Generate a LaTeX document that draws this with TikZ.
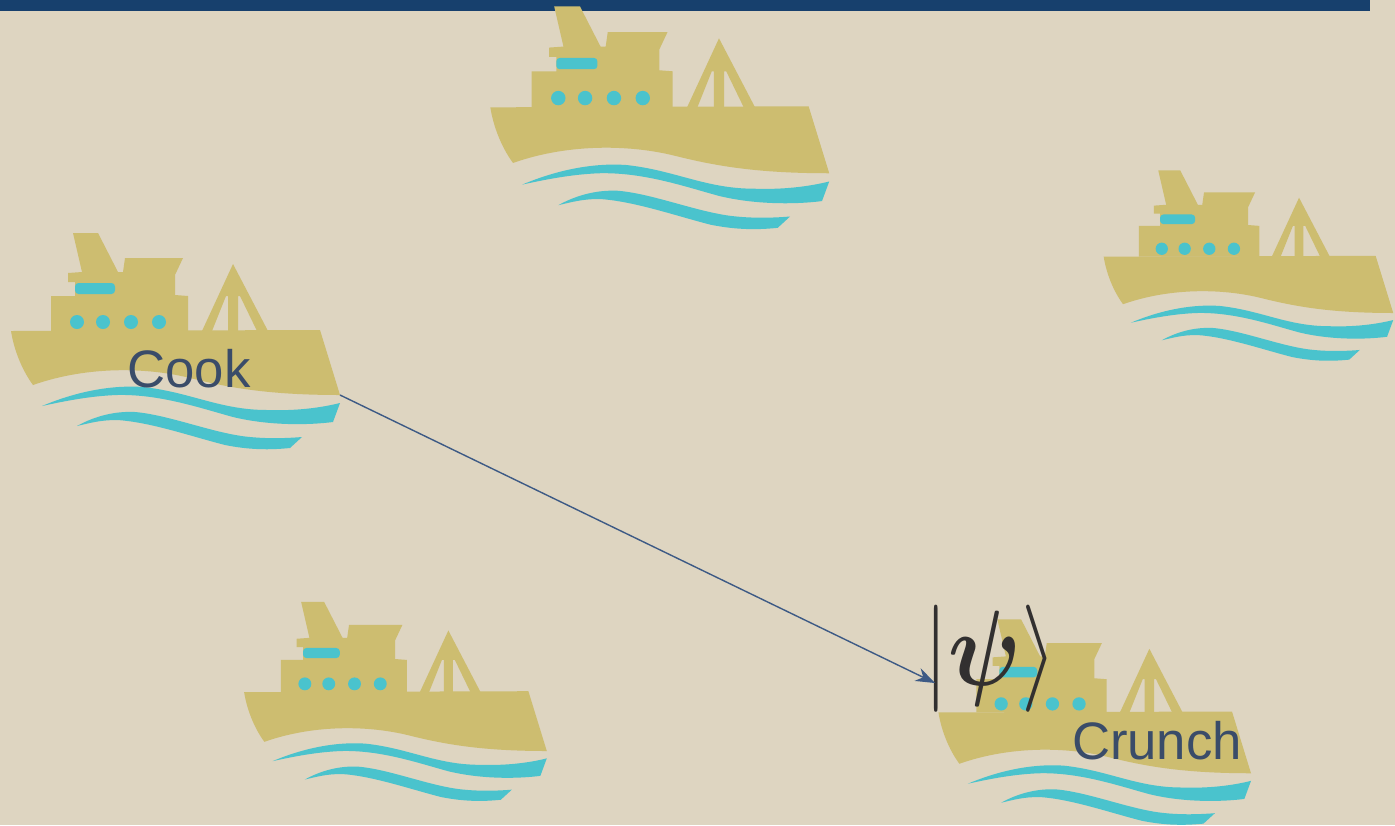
\documentclass[tikz,border=0pt]{standalone}
\usepackage{fontspec}
\usepackage{graphicx}
\setmainfont{Liberation Sans}
\usetikzlibrary{arrows.meta,positioning}
\definecolor{sandbg}{RGB}{222,213,193}
\definecolor{barblue}{RGB}{23,64,109}
\definecolor{hullgold}{RGB}{205,189,112}
\definecolor{seateal}{RGB}{74,195,205}
\definecolor{labelblue}{RGB}{58,76,105}
\definecolor{arrowblue}{RGB}{61,90,133}
\definecolor{ketgrey}{RGB}{50,48,48}
\begin{document}
\begin{tikzpicture}[
  x=0.02cm, y=-0.02cm,
  label/.style={font=\fontsize{30}{30}\selectfont, text=labelblue, inner sep=0pt},
  arrow/.style={-{Stealth[length=11pt,width=8pt]}, line width=0.8pt, arrowblue},
  ship/.pic={
    % hull and cabins
    \fill[hullgold] (11,111) -- (320,110) -- (340,175) .. controls (270,175) and (230,168) .. (190,158) .. controls (150,148) and (90,145) .. (33,165) .. controls (22,150) and (14,130) .. (11,111) -- cycle;
    \fill[hullgold] (73,13) -- (98,13) -- (118,52) -- (123,52) -- (125,38) -- (183,38) -- (175,55) -- (175,75) -- (188,76) -- (188,111) -- (51,111) -- (51,76) -- (75,76) -- (75,62) -- (68,62) -- (68,53) -- (82,52) -- cycle;
    \fill[hullgold, even odd rule] (202,111) -- (233,44) -- (268,111) -- cycle (212,111) -- (226,76) -- (228,76) -- (228,111) -- cycle (238,76) -- (240,76) -- (257,111) -- (238,111) -- cycle;
    % window and portholes
    \fill[seateal, rounded corners=2pt] (75,63) rectangle (115,74);
    \foreach \px in {77,103,131,159}
      \fill[seateal] (\px,102) circle[radius=7];
    % waves
    \fill[seateal] (42,186) .. controls (80,170) and (115,165) .. (143,167) .. controls (190,172) and (220,190) .. (267,190) .. controls (295,191) and (320,188) .. (340,183) -- (333,202) .. controls (310,205) and (270,206) .. (233,197) .. controls (200,188) and (160,174) .. (117,175) .. controls (90,176) and (65,181) .. (42,186) -- cycle;
    \fill[seateal] (77,206) .. controls (95,196) and (115,191) .. (135,192) .. controls (170,195) and (215,214) .. (250,217) .. controls (270,219) and (290,218) .. (302,217) -- (290,228) .. controls (270,230) and (250,230) .. (225,225) .. controls (190,216) and (150,202) .. (117,200) .. controls (100,200) and (90,203) .. (77,206) -- cycle;
    \coordinate (-bow) at (340,175);
  }
]
  \useasboundingbox (0,0) rectangle (1395,825);
  \fill[sandbg] (0,0) rectangle (1395,825);
  \fill[barblue] (0,0) rectangle (1370,11);
  \pic (topship) [scale=1.03] at (479,-7) {ship};
  \pic (rightship) [scale=0.88] at (1094,159) {ship};
  \pic (cook) at (0,220) {ship};
  \pic (lowship) [scale=0.92] at (234,590) {ship};
  \pic (crunch) [scale=0.95] at (928,607) {ship};
  \node[label] (cooklabel) at (189,369) {Cook};
  \node[label] (crunchlabel) at (1157,741) {Crunch};
  \node[anchor=west, inner sep=0pt, text=ketgrey] (ket) at (923,659) {\scalebox{5.2}[6.1]{$|${\boldmath$\psi$}$\rangle$}};
  \coordinate (ketin) at (935,683);
  \draw[arrow] (cook-bow) -- (ketin);
\end{tikzpicture}
\end{document}
